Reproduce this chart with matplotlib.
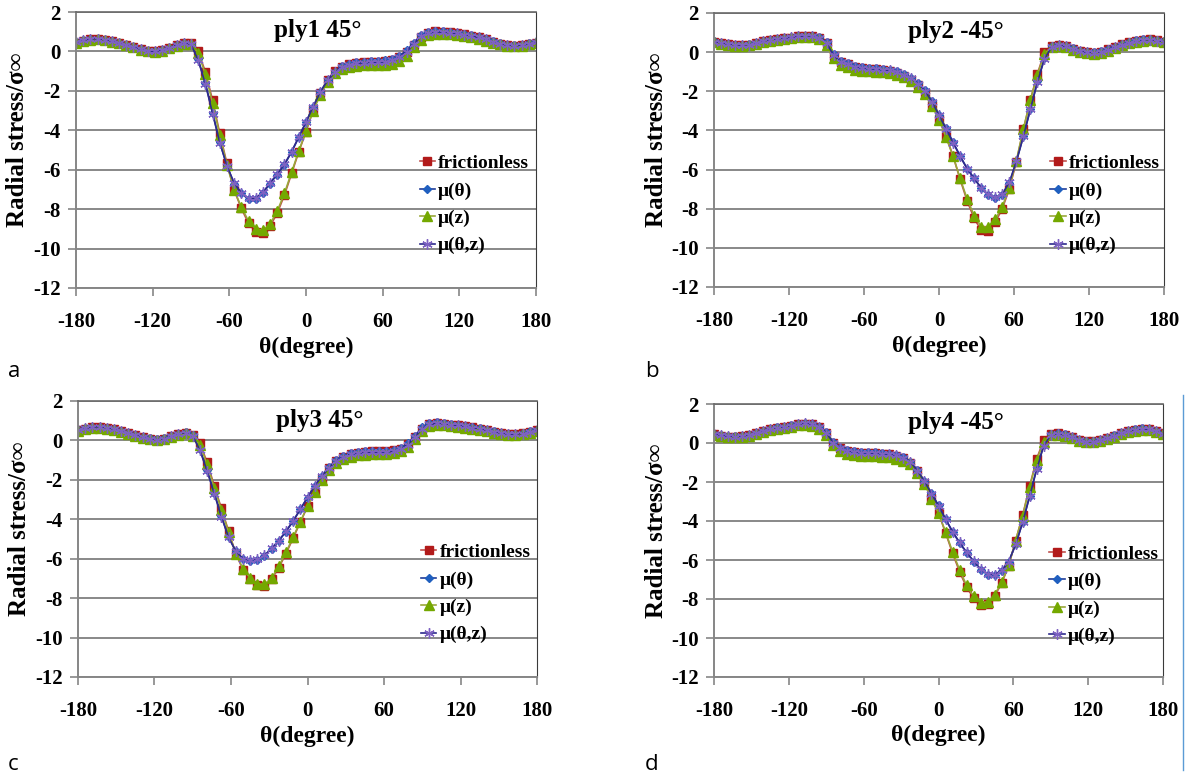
import numpy as np
import matplotlib
matplotlib.use("Agg")
import matplotlib.pyplot as plt
from matplotlib.lines import Line2D

# angle positions (deg), one point every 5.625 deg
theta = np.linspace(-180, 180, 65)

# ---- ply1 45 ----
a_fric = [0.45, 0.55, 0.62, 0.63, 0.58, 0.52, 0.43, 0.33, 0.22, 0.11, 0.03, 0.00, 0.06, 0.18, 0.32, 0.43, 0.42,
          0.00, -1.03, -2.47, -4.15, -5.68, -7.03, -7.96, -8.72, -9.15, -9.23, -8.86, -8.21, -7.29, -6.19, -5.09, -4.07, -2.97, -2.13, -1.45, -1.00,
          -0.78, -0.65, -0.58, -0.55, -0.53, -0.52, -0.50, -0.45, -0.30, -0.05, 0.35, 0.75, 0.95, 1.02, 1.00, 0.97, 0.93, 0.87, 0.80, 0.72, 0.62, 0.50, 0.40, 0.32, 0.30, 0.33, 0.40, 0.45]
a_mut = [0.47, 0.57, 0.64, 0.65, 0.60, 0.53, 0.44, 0.34, 0.23, 0.12, 0.04, 0.01, 0.07, 0.19, 0.33, 0.44, 0.38,
         -0.40, -1.60, -3.10, -4.60, -5.80, -6.70, -7.20, -7.50, -7.50, -7.20, -6.70, -6.25, -5.75, -5.10, -4.35, -3.60, -2.80, -2.05, -1.45, -1.02,
         -0.76, -0.62, -0.55, -0.52, -0.50, -0.48, -0.45, -0.38, -0.22, 0.05, 0.45, 0.82, 0.98, 1.04, 1.02, 0.99, 0.95, 0.89, 0.82, 0.74, 0.63, 0.51, 0.41, 0.33, 0.31, 0.34, 0.41, 0.47]
a_muz = [0.42, 0.52, 0.60, 0.61, 0.56, 0.50, 0.41, 0.31, 0.20, 0.09, 0.01, -0.02, 0.04, 0.15, 0.29, 0.40, 0.38,
         -0.08, -1.15, -2.60, -4.25, -5.75, -7.02, -7.90, -8.60, -9.00, -9.08, -8.75, -8.10, -7.20, -6.12, -5.05, -4.05, -3.00, -2.20, -1.55, -1.10,
         -0.90, -0.78, -0.72, -0.70, -0.68, -0.68, -0.67, -0.62, -0.48, -0.22, 0.20, 0.60, 0.82, 0.88, 0.88, 0.86, 0.82, 0.77, 0.71, 0.64, 0.55, 0.45, 0.36, 0.29, 0.27, 0.30, 0.37, 0.42]
a_mutz = [0.46, 0.56, 0.63, 0.64, 0.59, 0.52, 0.43, 0.33, 0.22, 0.11, 0.03, 0.00, 0.06, 0.18, 0.32, 0.43, 0.36,
          -0.45, -1.65, -3.15, -4.62, -5.80, -6.68, -7.16, -7.45, -7.44, -7.15, -6.66, -6.22, -5.72, -5.08, -4.33, -3.58, -2.80, -2.06, -1.47, -1.05,
          -0.80, -0.67, -0.60, -0.57, -0.55, -0.54, -0.52, -0.45, -0.28, -0.01, 0.40, 0.78, 0.95, 1.00, 0.98, 0.95, 0.91, 0.85, 0.79, 0.71, 0.61, 0.49, 0.39, 0.31, 0.29, 0.32, 0.39, 0.46]

# ---- ply2 -45 ----
b_fric = [0.53, 0.46, 0.40, 0.36, 0.35, 0.38, 0.45, 0.55, 0.62, 0.67, 0.70, 0.74, 0.80, 0.82, 0.82, 0.72, 0.45,
          -0.20, -0.50, -0.62, -0.75, -0.80, -0.84, -0.87, -0.90, -0.95, -1.05, -1.20, -1.40, -1.70, -2.10, -2.70, -3.40, -4.30, -5.30, -6.50, -7.60,
          -8.50, -9.10, -9.12, -8.70, -8.00, -7.00, -5.60, -3.95, -2.45, -1.10, 0.00, 0.33, 0.36, 0.30, 0.18, 0.06, 0.00, -0.02, 0.02, 0.14, 0.26, 0.40, 0.50, 0.58, 0.63, 0.65, 0.60, 0.53]
b_mut = [0.55, 0.48, 0.42, 0.38, 0.37, 0.40, 0.47, 0.57, 0.64, 0.69, 0.72, 0.76, 0.82, 0.84, 0.84, 0.76, 0.50,
         -0.12, -0.45, -0.58, -0.70, -0.76, -0.80, -0.83, -0.86, -0.90, -0.98, -1.12, -1.30, -1.58, -1.95, -2.50, -3.20, -3.90, -4.60, -5.30, -5.95,
         -6.45, -6.95, -7.30, -7.45, -7.30, -6.70, -5.60, -4.30, -2.90, -1.50, -0.30, 0.30, 0.38, 0.32, 0.20, 0.08, 0.02, 0.00, 0.04, 0.16, 0.28, 0.42, 0.52, 0.60, 0.65, 0.67, 0.62, 0.55]
b_muz = [0.50, 0.43, 0.37, 0.33, 0.32, 0.35, 0.42, 0.52, 0.59, 0.64, 0.67, 0.71, 0.76, 0.78, 0.77, 0.65, 0.35,
         -0.32, -0.65, -0.78, -0.90, -0.95, -0.98, -1.00, -1.02, -1.06, -1.15, -1.28, -1.47, -1.76, -2.15, -2.75, -3.45, -4.35, -5.32, -6.45, -7.50,
         -8.35, -8.92, -8.95, -8.55, -7.90, -6.92, -5.55, -3.92, -2.45, -1.15, -0.08, 0.26, 0.30, 0.24, 0.12, 0.00, -0.06, -0.08, -0.04, 0.08, 0.20, 0.34, 0.45, 0.53, 0.58, 0.60, 0.56, 0.50]
b_mutz = [0.54, 0.47, 0.41, 0.37, 0.36, 0.39, 0.46, 0.56, 0.63, 0.68, 0.71, 0.75, 0.81, 0.83, 0.83, 0.74, 0.47,
          -0.16, -0.50, -0.62, -0.74, -0.80, -0.84, -0.87, -0.90, -0.93, -1.01, -1.15, -1.33, -1.61, -1.98, -2.53, -3.22, -3.92, -4.62, -5.32, -5.96,
          -6.45, -6.93, -7.27, -7.40, -7.25, -6.66, -5.58, -4.30, -2.92, -1.53, -0.35, 0.26, 0.35, 0.29, 0.17, 0.05, -0.01, -0.03, 0.01, 0.13, 0.25, 0.39, 0.49, 0.57, 0.62, 0.64, 0.59, 0.54]

# ---- ply3 45 ----
c_fric = [0.53, 0.60, 0.67, 0.68, 0.63, 0.56, 0.47, 0.38, 0.28, 0.17, 0.08, 0.03, 0.08, 0.20, 0.32, 0.40, 0.30,
          -0.15, -1.10, -2.30, -3.45, -4.60, -5.75, -6.55, -7.05, -7.35, -7.38, -7.05, -6.45, -5.75, -4.95, -4.15, -3.35, -2.60, -1.95, -1.40, -1.05,
          -0.82, -0.68, -0.62, -0.58, -0.56, -0.56, -0.55, -0.50, -0.42, -0.20, 0.18, 0.60, 0.82, 0.88, 0.85, 0.80, 0.76, 0.72, 0.66, 0.60, 0.52, 0.44, 0.37, 0.33, 0.33, 0.36, 0.44, 0.53]
c_mut = [0.55, 0.62, 0.69, 0.70, 0.65, 0.58, 0.49, 0.40, 0.30, 0.19, 0.10, 0.05, 0.10, 0.22, 0.34, 0.41, 0.26,
         -0.45, -1.50, -2.65, -3.85, -4.90, -5.62, -6.02, -6.10, -6.05, -5.85, -5.50, -5.10, -4.62, -4.10, -3.50, -2.90, -2.30, -1.80, -1.35, -1.00,
         -0.80, -0.66, -0.60, -0.56, -0.54, -0.54, -0.53, -0.48, -0.38, -0.15, 0.25, 0.66, 0.86, 0.91, 0.88, 0.83, 0.79, 0.74, 0.68, 0.62, 0.54, 0.46, 0.39, 0.35, 0.35, 0.38, 0.46, 0.55]
c_muz = [0.50, 0.57, 0.64, 0.65, 0.60, 0.53, 0.44, 0.35, 0.25, 0.14, 0.05, 0.00, 0.05, 0.17, 0.29, 0.36, 0.24,
         -0.25, -1.20, -2.40, -3.52, -4.65, -5.75, -6.50, -6.98, -7.28, -7.30, -6.98, -6.38, -5.68, -4.90, -4.12, -3.35, -2.62, -2.00, -1.48, -1.15,
         -0.95, -0.82, -0.76, -0.72, -0.70, -0.70, -0.69, -0.64, -0.56, -0.35, 0.05, 0.48, 0.72, 0.78, 0.76, 0.72, 0.68, 0.65, 0.60, 0.54, 0.47, 0.39, 0.33, 0.29, 0.29, 0.32, 0.40, 0.50]
c_mutz = [0.54, 0.61, 0.68, 0.69, 0.64, 0.57, 0.48, 0.39, 0.29, 0.18, 0.09, 0.04, 0.09, 0.21, 0.33, 0.40, 0.23,
          -0.50, -1.55, -2.70, -3.88, -4.92, -5.62, -6.00, -6.07, -6.02, -5.82, -5.48, -5.08, -4.60, -4.08, -3.48, -2.89, -2.30, -1.82, -1.38, -1.04,
          -0.84, -0.70, -0.64, -0.61, -0.59, -0.59, -0.58, -0.53, -0.44, -0.21, 0.19, 0.60, 0.82, 0.87, 0.85, 0.80, 0.76, 0.71, 0.65, 0.59, 0.51, 0.43, 0.36, 0.32, 0.32, 0.35, 0.43, 0.54]

# ---- ply4 -45 ----
d_fric = [0.45, 0.38, 0.33, 0.32, 0.34, 0.40, 0.50, 0.62, 0.72, 0.78, 0.82, 0.88, 0.95, 1.00, 0.95, 0.80, 0.50,
          0.00, -0.28, -0.40, -0.46, -0.49, -0.51, -0.52, -0.54, -0.58, -0.65, -0.78, -1.00, -1.45, -2.05, -2.84, -3.60, -4.60, -5.65, -6.60, -7.40,
          -7.95, -8.30, -8.25, -7.85, -7.20, -6.30, -5.00, -3.70, -2.20, -0.80, 0.15, 0.48, 0.50, 0.42, 0.30, 0.15, 0.08, 0.08, 0.15, 0.25, 0.38, 0.50, 0.60, 0.68, 0.73, 0.70, 0.60, 0.50]
d_mut = [0.47, 0.40, 0.35, 0.34, 0.36, 0.42, 0.52, 0.64, 0.74, 0.80, 0.84, 0.90, 0.97, 1.02, 0.97, 0.84, 0.56,
         0.05, -0.24, -0.36, -0.42, -0.45, -0.47, -0.48, -0.50, -0.54, -0.61, -0.74, -0.95, -1.40, -1.95, -2.58, -3.20, -3.90, -4.55, -5.12, -5.62,
         -6.08, -6.50, -6.75, -6.78, -6.55, -6.10, -5.20, -4.05, -2.70, -1.30, -0.10, 0.45, 0.52, 0.44, 0.32, 0.17, 0.10, 0.10, 0.17, 0.27, 0.40, 0.52, 0.62, 0.70, 0.75, 0.72, 0.62, 0.47]
d_muz = [0.42, 0.35, 0.30, 0.29, 0.31, 0.37, 0.47, 0.58, 0.68, 0.74, 0.78, 0.84, 0.90, 0.94, 0.88, 0.72, 0.40,
         -0.12, -0.42, -0.55, -0.62, -0.66, -0.68, -0.69, -0.71, -0.74, -0.80, -0.90, -1.10, -1.52, -2.10, -2.86, -3.60, -4.55, -5.58, -6.50, -7.30,
         -7.85, -8.18, -8.15, -7.78, -7.15, -6.28, -5.00, -3.72, -2.25, -0.88, 0.06, 0.40, 0.43, 0.36, 0.24, 0.10, 0.03, 0.03, 0.10, 0.20, 0.33, 0.45, 0.55, 0.63, 0.68, 0.66, 0.56, 0.47]
d_mutz = [0.46, 0.39, 0.34, 0.33, 0.35, 0.41, 0.51, 0.63, 0.73, 0.79, 0.83, 0.89, 0.96, 1.01, 0.96, 0.82, 0.53,
          0.01, -0.28, -0.40, -0.46, -0.49, -0.51, -0.52, -0.54, -0.58, -0.64, -0.77, -0.98, -1.42, -1.97, -2.60, -3.22, -3.90, -4.54, -5.10, -5.60,
          -6.05, -6.46, -6.72, -6.75, -6.52, -6.08, -5.20, -4.07, -2.73, -1.35, -0.15, 0.41, 0.48, 0.41, 0.29, 0.14, 0.07, 0.07, 0.14, 0.24, 0.37, 0.50, 0.60, 0.68, 0.73, 0.70, 0.60, 0.46]

labels = ["frictionless", "μ(θ)", "μ(z)", "μ(θ,z)"]
titles = ["ply1 45°", "ply2 -45°", "ply3 45°", "ply4 -45°"]
letters = ["a", "b", "c", "d"]
xticks = [-180, -120, -60, 0, 60, 120, 180]
yticks = [2, 0, -2, -4, -6, -8, -10, -12]

plt.rcParams['font.family'] = ['Liberation Serif', 'DejaVu Serif']
plt.rcParams['font.weight'] = 'bold'
plt.rcParams['axes.unicode_minus'] = False

# series order: frictionless, mu(theta), mu(z), mu(theta,z)
styles = [
    dict(color='#C0504D', marker='s', mfc='#B21A1A', mec='#B21A1A', ms=5.5),
    dict(color='#1F3C99', marker='D', mfc='#1F5FBF', mec='#1F5FBF', ms=4.5),
    dict(color='#9AA83A', marker='^', mfc='#74A800', mec='#74A800', ms=7),
    dict(color='#2E2A8C', marker=(6, 2, 0), mfc='#7E62C2', mec='#7E62C2', ms=7.5, mew=1),
]

panels = [
    ([a_fric, a_mut, a_muz, a_mutz], [76, 12, 460, 276], (0.526, 0.933), (8, 372)),
    ([b_fric, b_mut, b_muz, b_mutz], [714, 13, 450, 274], (0.538, 0.931), (645, 372)),
    ([c_fric, c_mut, c_muz, c_mutz], [78, 401, 459, 276], (0.527, 0.929), (8, 765)),
    ([d_fric, d_mut, d_muz, d_mutz], [714, 404, 449, 273], (0.539, 0.932), (645, 765)),
]

W, H = 1188, 777
fig = plt.figure(figsize=(W / 100, H / 100), dpi=100)

for k, (series, box, tpos, lpos) in enumerate(panels):
    x0, y0, w, h = box
    ax = fig.add_axes([x0 / W, 1 - (y0 + h) / H, w / W, h / H])
    for vals, lab, st in zip(series, labels, styles):
        ax.plot(theta, vals, lw=1.2, label=lab, **st)
    ax.set_xlim(-180, 180)
    ax.set_ylim(-12, 2)
    ax.set_xticks(xticks)
    ax.set_yticks(yticks)
    ax.tick_params(axis='both', direction='out', length=6, width=1.2, color='#868686', labelsize=15)
    ax.tick_params(axis='x', pad=11)
    ax.tick_params(axis='y', pad=5)
    ax.yaxis.grid(True, color='#7f7f7f', lw=1.3)
    ax.set_axisbelow(True)
    for s in ['left', 'bottom']:
        ax.spines[s].set_color('#868686')
        ax.spines[s].set_linewidth(1.4)
    ax.spines['right'].set_color('#3a3a3a')
    ax.spines['top'].set_color('#6a6a6a')
    ax.spines['top'].set_linewidth(1.2)
    ax.text(tpos[0], tpos[1], titles[k], transform=ax.transAxes, ha='center', va='center',
            fontsize=18, fontweight='bold')
    ax.text(-0.128, 0.537, "Radial stress/σ∞", transform=ax.transAxes, rotation=90,
            ha='center', va='center', fontsize=18, fontweight='bold')
    ax.text(0.5, -0.215, "θ(degree)", transform=ax.transAxes, ha='center', va='center',
            fontsize=17, fontweight='bold')
    ax.legend(loc='upper left', bbox_to_anchor=(0.747, 0.483), frameon=False, borderpad=0,
              borderaxespad=0, handlelength=0.8, handletextpad=0.15, labelspacing=0.5,
              prop=dict(size=14, weight='bold'))
    fig.text(lpos[0] / W, 1 - lpos[1] / H, letters[k], ha='left', va='center',
             fontsize=16, family='Open Sans', fontweight='normal')

# thin blue rule on the right edge
fig.add_artist(Line2D([1183 / W, 1183 / W], [1 - 395 / H, 1 - 770 / H], color='#5B9BD5', lw=1))

fig.savefig("out.png", dpi=100)
